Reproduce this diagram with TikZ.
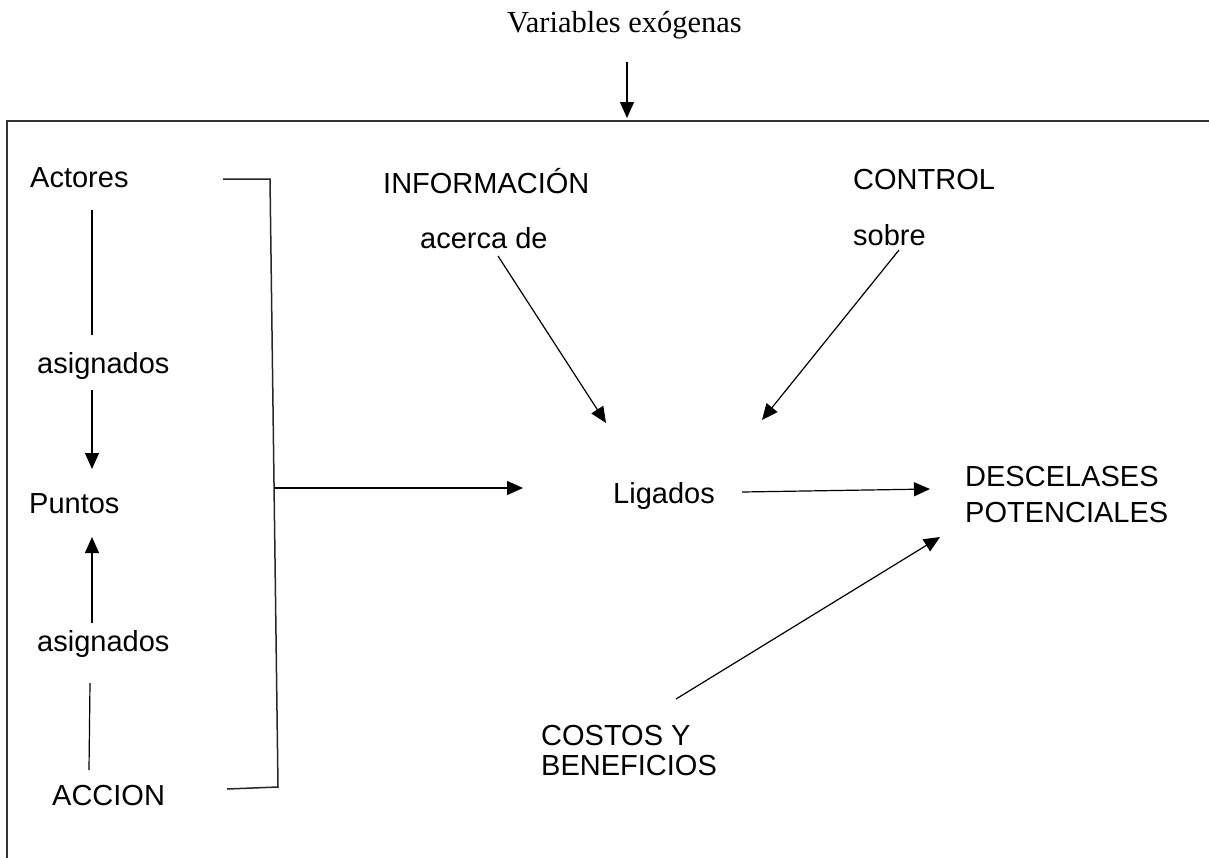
\documentclass[tikz,border=0pt]{standalone}
\usepackage{fontspec}
\setmainfont{Liberation Sans}
\newfontfamily\serifface{Liberation Serif}
\usetikzlibrary{arrows.meta}
\begin{document}
\begin{tikzpicture}[x=1pt,y=-1pt,
  lbl/.style={anchor=base west,inner sep=0pt,font=\fontsize{29}{36}\selectfont},
  lbltight/.style={anchor=base west,inner sep=0pt,align=left,font=\fontsize{29}{30}\selectfont},
  conn/.style={line width=1.2pt,black},
  arr/.style={conn,-{Triangle[length=16pt,width=14pt]}},
  frame/.style={line width=1.8pt,black!80},
  brk/.style={line width=1.5pt,black!85}]
\useasboundingbox (0,0) rectangle (1209,857);
% frame
\draw[frame] (7,870) -- (7,121) -- (1220,121);
% texts
\node[anchor=base west,inner sep=0pt,font=\serifface\fontsize{30.5}{36}\selectfont] (var) at (507,32) {Variables exógenas};
\node[lbl] (act) at (30,187) {Actores};
\node[lbl] (asg1) at (37,373) {asignados};
\node[lbl] (pun) at (29,513) {Puntos};
\node[lbl] (asg2) at (37,651) {asignados};
\node[lbl] (acc) at (52,805) {ACCION};
\node[lbl] (inf) at (383,193) {INFORMACIÓN};
\node[lbl] (ace) at (420,248) {acerca de};
\node[lbl] (con) at (853,189) {CONTROL};
\node[lbl] (sob) at (853,245) {sobre};
\node[lbl] (lig) at (613,503) {Ligados};
\node[anchor=base west,inner sep=0pt,align=left,font=\fontsize{29}{36}\selectfont] (des) at (965,522) {DESCELASES\\POTENCIALES};
\node[lbltight] (cos) at (541,775) {COSTOS Y\\BENEFICIOS};
% coordinates
\coordinate (v1) at (627,62);
\coordinate (v2) at (627,118);
\coordinate (l1a) at (92,210);
\coordinate (l1b) at (92,335);
\coordinate (l2a) at (92,390);
\coordinate (l2b) at (92,469);
\coordinate (l3a) at (92,623);
\coordinate (l3b) at (92,537);
\coordinate (l4a) at (90,683);
\coordinate (l4b) at (89,770);
\coordinate (bt1) at (223,179);
\coordinate (bt2) at (270,179);
\coordinate (bb2) at (278,787);
\coordinate (bb1) at (227,789);
\coordinate (bm) at (274,488);
\coordinate (bmt) at (523,488);
\coordinate (lg1) at (742,492);
\coordinate (lg2) at (930,489);
\coordinate (ac1) at (498,256);
\coordinate (ac2) at (606,423);
\coordinate (sb1) at (899,250);
\coordinate (sb2) at (762,420);
\coordinate (cb1) at (676,699);
\coordinate (cb2) at (940,537);
% connectors
\draw[arr] (v1) -- (v2);
\draw[conn] (l1a) -- (l1b);
\draw[arr] (l2a) -- (l2b);
\draw[arr] (l3a) -- (l3b);
\draw[conn] (l4a) -- (l4b);
\draw[brk] (bt1) -- (bt2) -- (bb2) -- (bb1);
\draw[arr] (bm) -- (bmt);
\draw[arr] (lg1) -- (lg2);
\draw[arr] (ac1) -- (ac2);
\draw[arr] (sb1) -- (sb2);
\draw[arr] (cb1) -- (cb2);
\end{tikzpicture}
\end{document}
